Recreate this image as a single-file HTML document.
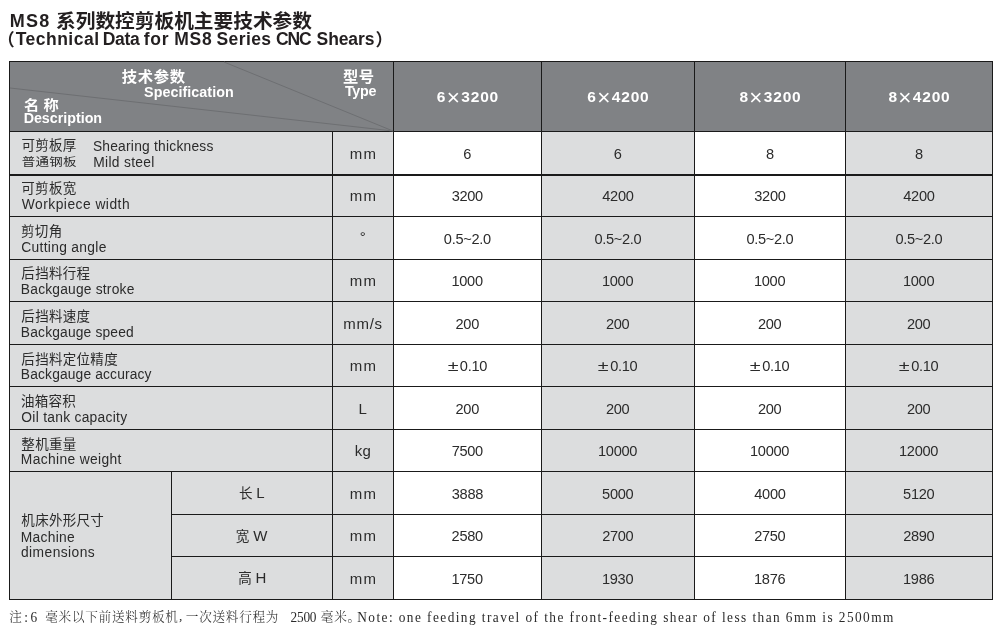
<!DOCTYPE html>
<html lang="zh"><head><meta charset="utf-8"><title>MS8 系列数控剪板机主要技术参数</title>
<style>
html,body{margin:0;padding:0;background:#fff;}
body{width:997px;height:630px;position:relative;overflow:hidden;font-family:"Liberation Sans","Noto Sans CJK SC",sans-serif;color:#2b2b2b;}
.b{position:absolute;}
.t{position:absolute;white-space:nowrap;line-height:20px;}
.w{color:#fff;font-weight:bold;}
.k{color:#231f20;font-weight:bold;}
.p{font-size:17.2px;position:relative;top:1px;}
.pm{display:inline-block;transform:scaleX(1.35);margin:0 3.2px 0 1.3px;}
.x{font-weight:normal;font-size:22.5px;position:relative;top:3px;letter-spacing:0;margin:0 1.4px 0 0.5px;}
.note{font-family:"Liberation Serif","Noto Serif CJK SC",serif;color:#2a2a2a;}
</style></head>
<body>
<div class="b" style="left:9px;top:61px;width:984px;height:71px;background:#808285"></div>
<div class="b" style="left:9px;top:132px;width:384px;height:468px;background:#dcddde"></div>
<div class="b" style="left:393px;top:132px;width:148px;height:468px;background:#ffffff"></div>
<div class="b" style="left:541px;top:132px;width:153px;height:468px;background:#dcddde"></div>
<div class="b" style="left:694px;top:132px;width:151px;height:468px;background:#ffffff"></div>
<div class="b" style="left:845px;top:132px;width:148px;height:468px;background:#dcddde"></div>
<div class="b" style="left:9px;top:61px;width:984px;height:1px;background:#1a1a1a"></div>
<div class="b" style="left:9px;top:131px;width:984px;height:1px;background:#1a1a1a"></div>
<div class="b" style="left:9px;top:174px;width:984px;height:2px;background:#1a1a1a"></div>
<div class="b" style="left:9px;top:216px;width:984px;height:1px;background:#1a1a1a"></div>
<div class="b" style="left:9px;top:259px;width:984px;height:1px;background:#1a1a1a"></div>
<div class="b" style="left:9px;top:301px;width:984px;height:1px;background:#1a1a1a"></div>
<div class="b" style="left:9px;top:344px;width:984px;height:1px;background:#1a1a1a"></div>
<div class="b" style="left:9px;top:386px;width:984px;height:1px;background:#1a1a1a"></div>
<div class="b" style="left:9px;top:429px;width:984px;height:1px;background:#1a1a1a"></div>
<div class="b" style="left:9px;top:471px;width:984px;height:1px;background:#1a1a1a"></div>
<div class="b" style="left:171px;top:514px;width:822px;height:1px;background:#1a1a1a"></div>
<div class="b" style="left:171px;top:556px;width:822px;height:1px;background:#1a1a1a"></div>
<div class="b" style="left:9px;top:599px;width:984px;height:1px;background:#1a1a1a"></div>
<div class="b" style="left:9px;top:61px;width:1px;height:539px;background:#1a1a1a"></div>
<div class="b" style="left:992px;top:61px;width:1px;height:539px;background:#1a1a1a"></div>
<div class="b" style="left:332px;top:131px;width:1px;height:469px;background:#1a1a1a"></div>
<div class="b" style="left:393px;top:61px;width:1px;height:539px;background:#1a1a1a"></div>
<div class="b" style="left:541px;top:61px;width:1px;height:539px;background:#1a1a1a"></div>
<div class="b" style="left:694px;top:61px;width:1px;height:539px;background:#1a1a1a"></div>
<div class="b" style="left:845px;top:61px;width:1px;height:539px;background:#1a1a1a"></div>
<div class="b" style="left:171px;top:471px;width:1px;height:129px;background:#1a1a1a"></div>
<svg class="b" style="left:0;top:0" width="997" height="630" viewBox="0 0 997 630"><g stroke="#6d6f72" stroke-width="1" fill="none"><line x1="224" y1="62" x2="393" y2="131"/><line x1="10" y1="88" x2="393" y2="131"/></g></svg>
<div id="t1" class="t k" style="left:9.63px;top:10px;font-size:19.7px;"><span style="font-size:18px;letter-spacing:1.3px">MS8</span><span style="position:relative;top:1px"> 系列数控剪板机主要技术参数</span></div>
<div id="t2" class="t k" style="left:-2.45px;top:28px;font-size:19.8px;"><span class="p" style="margin-right:0.9px">（</span><span style="font-size:17.5px"><span style="display:inline-block;width:87.10px;letter-spacing:0.49px">Technical </span><span style="display:inline-block;width:40.90px;letter-spacing:-0.30px">Data </span><span style="display:inline-block;width:30.60px;letter-spacing:0.80px">for </span><span style="display:inline-block;width:42.20px;letter-spacing:0.80px">MS8 </span><span style="display:inline-block;width:59.50px;letter-spacing:0.42px">Series </span><span style="display:inline-block;width:40.70px;letter-spacing:-1.09px">CNC </span><span style="display:inline-block;width:58.60px;letter-spacing:-0.11px">Shears</span></span><span class="p" style="margin-left:0.4px">）</span></div>
<div id="h1" class="t w" style="left:121.74px;top:67px;font-size:15.3px;letter-spacing:0.7px;">技术参数</div>
<div id="h2" class="t w" style="left:144.12px;top:82px;font-size:14.3px;letter-spacing:0.05px;">Specification</div>
<div id="h3" class="t w" style="left:23.64px;top:96px;font-size:14.5px;transform:scale(1.055,0.913);transform-origin:0 0;">名 称</div>
<div id="h4" class="t w" style="left:23.64px;top:108px;font-size:14.3px;letter-spacing:-0.02px;">Description</div>
<div id="h5" class="t w" style="left:342.89px;top:67px;font-size:15.3px;letter-spacing:0.7px;">型号</div>
<div id="h6" class="t w" style="left:344.89px;top:81px;font-size:14.3px;letter-spacing:-0.25px;">Type</div>
<div id="hv0" class="t w" style="left:367.93px;width:200px;text-align:center;top:85px;font-size:15.5px;letter-spacing:0.8px;">6<span class="x">×</span>3200</div>
<div id="hv1" class="t w" style="left:518.44px;width:200px;text-align:center;top:85px;font-size:15.5px;letter-spacing:0.8px;">6<span class="x">×</span>4200</div>
<div id="hv2" class="t w" style="left:670.47px;width:200px;text-align:center;top:85px;font-size:15.5px;letter-spacing:0.8px;">8<span class="x">×</span>3200</div>
<div id="hv3" class="t w" style="left:819.47px;width:200px;text-align:center;top:85px;font-size:15.5px;letter-spacing:0.8px;">8<span class="x">×</span>4200</div>
<div id="r0a" class="t " style="left:21.44px;top:136px;font-size:13.5px;letter-spacing:0.3px;">可剪板厚</div>
<div id="r0b" class="t " style="left:21.65px;top:151px;font-size:13.5px;letter-spacing:0.3px;transform:scaleY(0.88);transform-origin:0 100%;">普通钢板</div>
<div id="r0c" class="t " style="left:92.88px;top:137px;font-size:13.8px;letter-spacing:0.23px;">Shearing thickness</div>
<div id="r0d" class="t " style="left:93.30px;top:153px;font-size:13.8px;letter-spacing:0.30px;">Mild steel</div>
<div id="r0u" class="t " style="left:263.58px;width:200px;text-align:center;top:144px;font-size:15px;letter-spacing:1.40px;">mm</div>
<div id="r0v0" class="t " style="left:367.25px;width:200px;text-align:center;top:144px;font-size:14.6px;letter-spacing:-0.3px;">6</div>
<div id="r0v1" class="t " style="left:517.79px;width:200px;text-align:center;top:144px;font-size:14.6px;letter-spacing:-0.3px;">6</div>
<div id="r0v2" class="t " style="left:669.85px;width:200px;text-align:center;top:144px;font-size:14.6px;letter-spacing:-0.3px;">8</div>
<div id="r0v3" class="t " style="left:818.85px;width:200px;text-align:center;top:144px;font-size:14.6px;letter-spacing:-0.3px;">8</div>
<div id="r1a" class="t " style="left:21.29px;top:179px;font-size:13.5px;letter-spacing:0.3px;">可剪板宽</div>
<div id="r1b" class="t " style="left:21.78px;top:195px;font-size:13.8px;letter-spacing:0.49px;">Workpiece width</div>
<div id="r1u" class="t " style="left:263.58px;width:200px;text-align:center;top:186px;font-size:15px;letter-spacing:1.40px;">mm</div>
<div id="r1v0" class="t " style="left:367.28px;width:200px;text-align:center;top:186px;font-size:14.6px;letter-spacing:-0.3px;">3200</div>
<div id="r1v1" class="t " style="left:517.92px;width:200px;text-align:center;top:186px;font-size:14.6px;letter-spacing:-0.3px;">4200</div>
<div id="r1v2" class="t " style="left:669.92px;width:200px;text-align:center;top:186px;font-size:14.6px;letter-spacing:-0.3px;">3200</div>
<div id="r1v3" class="t " style="left:818.92px;width:200px;text-align:center;top:186px;font-size:14.6px;letter-spacing:-0.3px;">4200</div>
<div id="r2a" class="t " style="left:21.06px;top:222px;font-size:13.5px;letter-spacing:0.3px;">剪切角</div>
<div id="r2b" class="t " style="left:21.29px;top:238px;font-size:13.8px;letter-spacing:0.31px;">Cutting angle</div>
<div id="r2u" class="t " style="left:262.79px;width:200px;text-align:center;top:227px;font-size:15px;">°</div>
<div id="r2v0" class="t " style="left:367.35px;width:200px;text-align:center;top:229px;font-size:14.6px;letter-spacing:-0.3px;">0.5~2.0</div>
<div id="r2v1" class="t " style="left:517.93px;width:200px;text-align:center;top:229px;font-size:14.6px;letter-spacing:-0.3px;">0.5~2.0</div>
<div id="r2v2" class="t " style="left:669.93px;width:200px;text-align:center;top:229px;font-size:14.6px;letter-spacing:-0.3px;">0.5~2.0</div>
<div id="r2v3" class="t " style="left:818.93px;width:200px;text-align:center;top:229px;font-size:14.6px;letter-spacing:-0.3px;">0.5~2.0</div>
<div id="r3a" class="t " style="left:21.37px;top:264px;font-size:13.5px;letter-spacing:0.3px;">后挡料行程</div>
<div id="r3b" class="t " style="left:20.86px;top:280px;font-size:13.8px;letter-spacing:0.20px;">Backgauge stroke</div>
<div id="r3u" class="t " style="left:263.58px;width:200px;text-align:center;top:271px;font-size:15px;letter-spacing:1.40px;">mm</div>
<div id="r3v0" class="t " style="left:367.13px;width:200px;text-align:center;top:271px;font-size:14.6px;letter-spacing:-0.3px;">1000</div>
<div id="r3v1" class="t " style="left:517.63px;width:200px;text-align:center;top:271px;font-size:14.6px;letter-spacing:-0.3px;">1000</div>
<div id="r3v2" class="t " style="left:669.63px;width:200px;text-align:center;top:271px;font-size:14.6px;letter-spacing:-0.3px;">1000</div>
<div id="r3v3" class="t " style="left:818.63px;width:200px;text-align:center;top:271px;font-size:14.6px;letter-spacing:-0.3px;">1000</div>
<div id="r4a" class="t " style="left:21.35px;top:307px;font-size:13.5px;letter-spacing:0.3px;">后挡料速度</div>
<div id="r4b" class="t " style="left:20.86px;top:323px;font-size:13.8px;letter-spacing:0.17px;">Backgauge speed</div>
<div id="r4u" class="t " style="left:263.04px;width:200px;text-align:center;top:314px;font-size:15px;letter-spacing:0.71px;">mm/s</div>
<div id="r4v0" class="t " style="left:367.29px;width:200px;text-align:center;top:314px;font-size:14.6px;letter-spacing:-0.3px;">200</div>
<div id="r4v1" class="t " style="left:517.71px;width:200px;text-align:center;top:314px;font-size:14.6px;letter-spacing:-0.3px;">200</div>
<div id="r4v2" class="t " style="left:669.71px;width:200px;text-align:center;top:314px;font-size:14.6px;letter-spacing:-0.3px;">200</div>
<div id="r4v3" class="t " style="left:818.71px;width:200px;text-align:center;top:314px;font-size:14.6px;letter-spacing:-0.3px;">200</div>
<div id="r5a" class="t " style="left:21.37px;top:350px;font-size:13.5px;letter-spacing:0.3px;">后挡料定位精度</div>
<div id="r5b" class="t " style="left:20.86px;top:365px;font-size:13.8px;letter-spacing:0.15px;">Backgauge accuracy</div>
<div id="r5u" class="t " style="left:263.58px;width:200px;text-align:center;top:356px;font-size:15px;letter-spacing:1.40px;">mm</div>
<div id="r5v0" class="t " style="left:367.33px;width:200px;text-align:center;top:356px;font-size:14.6px;letter-spacing:-0.3px;"><span class="pm">±</span>0.10</div>
<div id="r5v1" class="t " style="left:517.69px;width:200px;text-align:center;top:356px;font-size:14.6px;letter-spacing:-0.3px;"><span class="pm">±</span>0.10</div>
<div id="r5v2" class="t " style="left:669.69px;width:200px;text-align:center;top:356px;font-size:14.6px;letter-spacing:-0.3px;"><span class="pm">±</span>0.10</div>
<div id="r5v3" class="t " style="left:818.69px;width:200px;text-align:center;top:356px;font-size:14.6px;letter-spacing:-0.3px;"><span class="pm">±</span>0.10</div>
<div id="r6a" class="t " style="left:20.88px;top:392px;font-size:13.5px;letter-spacing:0.3px;">油箱容积</div>
<div id="r6b" class="t " style="left:21.36px;top:408px;font-size:13.8px;letter-spacing:0.28px;">Oil tank capacity</div>
<div id="r6u" class="t " style="left:262.63px;width:200px;text-align:center;top:399px;font-size:15px;">L</div>
<div id="r6v0" class="t " style="left:367.29px;width:200px;text-align:center;top:399px;font-size:14.6px;letter-spacing:-0.3px;">200</div>
<div id="r6v1" class="t " style="left:517.71px;width:200px;text-align:center;top:399px;font-size:14.6px;letter-spacing:-0.3px;">200</div>
<div id="r6v2" class="t " style="left:669.71px;width:200px;text-align:center;top:399px;font-size:14.6px;letter-spacing:-0.3px;">200</div>
<div id="r6v3" class="t " style="left:818.71px;width:200px;text-align:center;top:399px;font-size:14.6px;letter-spacing:-0.3px;">200</div>
<div id="r7a" class="t " style="left:21.37px;top:435px;font-size:13.5px;letter-spacing:0.3px;">整机重量</div>
<div id="r7b" class="t " style="left:20.86px;top:450px;font-size:13.8px;letter-spacing:0.35px;">Machine weight</div>
<div id="r7u" class="t " style="left:262.90px;width:200px;text-align:center;top:441px;font-size:15px;letter-spacing:0.10px;">kg</div>
<div id="r7v0" class="t " style="left:367.28px;width:200px;text-align:center;top:441px;font-size:14.6px;letter-spacing:-0.3px;">7500</div>
<div id="r7v1" class="t " style="left:517.55px;width:200px;text-align:center;top:441px;font-size:14.6px;letter-spacing:-0.3px;">10000</div>
<div id="r7v2" class="t " style="left:669.55px;width:200px;text-align:center;top:441px;font-size:14.6px;letter-spacing:-0.3px;">10000</div>
<div id="r7v3" class="t " style="left:818.55px;width:200px;text-align:center;top:441px;font-size:14.6px;letter-spacing:-0.3px;">12000</div>
<div id="r8b" class="t " style="left:151.84px;width:200px;text-align:center;top:483px;font-size:13.5px;">长 <span style="font-size:15px">L</span></div>
<div id="r8u" class="t " style="left:263.58px;width:200px;text-align:center;top:484px;font-size:15px;letter-spacing:1.40px;">mm</div>
<div id="r8v0" class="t " style="left:367.40px;width:200px;text-align:center;top:484px;font-size:14.6px;letter-spacing:-0.3px;">3888</div>
<div id="r8v1" class="t " style="left:517.75px;width:200px;text-align:center;top:484px;font-size:14.6px;letter-spacing:-0.3px;">5000</div>
<div id="r8v2" class="t " style="left:669.92px;width:200px;text-align:center;top:484px;font-size:14.6px;letter-spacing:-0.3px;">4000</div>
<div id="r8v3" class="t " style="left:818.75px;width:200px;text-align:center;top:484px;font-size:14.6px;letter-spacing:-0.3px;">5120</div>
<div id="r9b" class="t " style="left:151.58px;width:200px;text-align:center;top:526px;font-size:13.5px;">宽 <span style="font-size:15px">W</span></div>
<div id="r9u" class="t " style="left:263.58px;width:200px;text-align:center;top:526px;font-size:15px;letter-spacing:1.40px;">mm</div>
<div id="r9v0" class="t " style="left:367.25px;width:200px;text-align:center;top:526px;font-size:14.6px;letter-spacing:-0.3px;">2580</div>
<div id="r9v1" class="t " style="left:517.77px;width:200px;text-align:center;top:526px;font-size:14.6px;letter-spacing:-0.3px;">2700</div>
<div id="r9v2" class="t " style="left:669.77px;width:200px;text-align:center;top:526px;font-size:14.6px;letter-spacing:-0.3px;">2750</div>
<div id="r9v3" class="t " style="left:818.77px;width:200px;text-align:center;top:526px;font-size:14.6px;letter-spacing:-0.3px;">2890</div>
<div id="r10b" class="t " style="left:152.28px;width:200px;text-align:center;top:568px;font-size:13.5px;">高 <span style="font-size:15px">H</span></div>
<div id="r10u" class="t " style="left:263.58px;width:200px;text-align:center;top:569px;font-size:15px;letter-spacing:1.40px;">mm</div>
<div id="r10v0" class="t " style="left:367.13px;width:200px;text-align:center;top:569px;font-size:14.6px;letter-spacing:-0.3px;">1750</div>
<div id="r10v1" class="t " style="left:517.63px;width:200px;text-align:center;top:569px;font-size:14.6px;letter-spacing:-0.3px;">1930</div>
<div id="r10v2" class="t " style="left:669.65px;width:200px;text-align:center;top:569px;font-size:14.6px;letter-spacing:-0.3px;">1876</div>
<div id="r10v3" class="t " style="left:818.65px;width:200px;text-align:center;top:569px;font-size:14.6px;letter-spacing:-0.3px;">1986</div>
<div id="m1" class="t " style="left:21.34px;top:511px;font-size:13.5px;letter-spacing:0.3px;">机床外形尺寸</div>
<div id="m2" class="t " style="left:20.75px;top:528px;font-size:13.8px;letter-spacing:0.30px;">Machine</div>
<div id="m3" class="t " style="left:21.02px;top:543px;font-size:13.8px;letter-spacing:0.43px;">dimensions</div>
<div id="n1" class="t note" style="left:9.26px;top:607px;font-size:12.6px;letter-spacing:0.75px;font-weight:300;">注</div>
<div id="n2" class="t note" style="left:24.20px;top:608px;font-size:13.33px;transform:scaleY(1.14);transform-origin:0 80%;letter-spacing:2.50px;">:6</div>
<div id="n3" class="t note" style="left:45.23px;top:607px;font-size:12.6px;letter-spacing:0.75px;font-weight:300;">毫米以下前送料剪板机</div>
<div id="n4" class="t note" style="left:179.05px;top:606px;font-size:13.33px;">,</div>
<div id="n5" class="t note" style="left:185.79px;top:607px;font-size:12.6px;letter-spacing:0.75px;font-weight:300;">一次送料行程为</div>
<div id="n6" class="t note" style="left:290.48px;top:608px;font-size:13.33px;transform:scaleY(1.14);transform-origin:0 80%;letter-spacing:-0.20px;">2500</div>
<div id="n7" class="t note" style="left:320.86px;top:607px;font-size:12.6px;letter-spacing:0.75px;font-weight:300;">毫米。</div>
<div id="n8" class="t note" style="left:357.25px;top:608px;font-size:13.33px;transform:scaleY(1.14);transform-origin:0 80%;letter-spacing:1.43px;">Note: one feeding travel of the front-feeding shear of less than 6mm is 2500mm</div>
</body></html>
